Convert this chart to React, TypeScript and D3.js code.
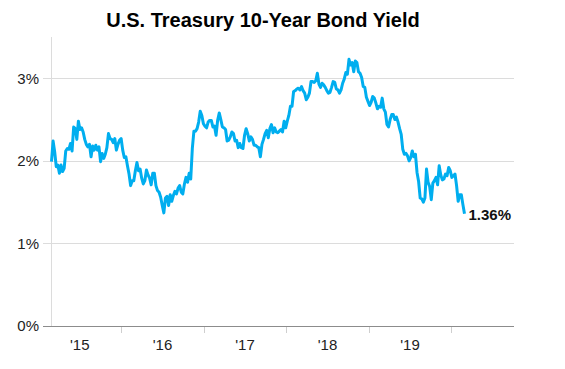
import { useEffect, useRef } from "react";
import * as d3 from "d3";

// weekly closes (Fridays), starting Feb 27 2015
const START = new Date(2015, 1, 27);
const Y2015 = [
  1.99, 2.24, 2.11, 1.93, 1.95, 1.85, 1.95, 1.87, 1.91, 2.12, 2.15, 2.14, 2.21, 2.12, 2.41, 2.39, 2.26, 2.48,
  2.38, 2.4, 2.35, 2.26, 2.2, 2.17, 2.2, 2.05, 2.18, 2.13, 2.19, 2.13, 2.17, 1.99, 2.09, 2.03, 2.08, 2.16,
  2.33, 2.27, 2.26, 2.22, 2.27, 2.13, 2.2, 2.25,
];
const Y2016 = [
  2.27, 2.13, 2.04, 2.05, 1.94, 1.84, 1.7, 1.76, 1.76, 1.88, 1.98, 1.88, 1.9, 1.79, 1.72, 1.76, 1.89, 1.83,
  1.79, 1.71, 1.85, 1.85, 1.7, 1.64, 1.62, 1.56, 1.46, 1.37, 1.55, 1.57, 1.46, 1.59, 1.51, 1.58, 1.63, 1.6,
  1.67, 1.7, 1.62, 1.6, 1.72, 1.8, 1.74, 1.85, 1.78, 2.15, 2.36, 2.36, 2.39, 2.47, 2.6, 2.55, 2.45,
];
const Y2017 = [
  2.42, 2.4, 2.47, 2.49, 2.49, 2.41, 2.42, 2.31, 2.49, 2.58, 2.5, 2.41, 2.4, 2.38, 2.24, 2.25, 2.29, 2.35,
  2.33, 2.24, 2.25, 2.16, 2.21, 2.16, 2.15, 2.31, 2.39, 2.33, 2.24, 2.29, 2.26, 2.19, 2.19, 2.17, 2.16, 2.05,
  2.2, 2.26, 2.33, 2.37, 2.28, 2.39, 2.44, 2.34, 2.4, 2.35, 2.34, 2.36, 2.38, 2.35, 2.48, 2.4,
];
const Y2018 = [
  2.48, 2.55, 2.66, 2.66, 2.84, 2.85, 2.87, 2.88, 2.86, 2.9, 2.85, 2.82, 2.74, 2.77, 2.82, 2.96, 2.96, 2.95,
  2.97, 3.06, 2.93, 2.89, 2.94, 2.92, 2.89, 2.85, 2.82, 2.83, 2.89, 2.96, 2.95, 2.87, 2.86, 2.82, 2.86, 2.94,
  2.99, 3.07, 3.05, 3.23, 3.16, 3.19, 3.08, 3.21, 3.19, 3.08, 3.06, 3.01, 2.9, 2.89, 2.77, 2.72,
];
const Y2019 = [
  2.67, 2.71, 2.78, 2.76, 2.7, 2.63, 2.66, 2.65, 2.76, 2.63, 2.59, 2.44, 2.41, 2.5, 2.56, 2.56, 2.5, 2.53,
  2.47, 2.39, 2.32, 2.14, 2.08, 2.09, 2.06, 2.0, 2.04, 2.12, 2.05, 2.08, 1.86, 1.75, 1.55, 1.54, 1.5, 1.55,
  1.9, 1.74, 1.69, 1.53, 1.73, 1.76, 1.8, 1.71, 1.94, 1.83, 1.77, 1.78, 1.84, 1.82, 1.92, 1.88,
];
const Y2020 = [1.8, 1.82, 1.84, 1.7, 1.51, 1.59, 1.59, 1.47, 1.36];

const YEAR_LABELS = ["'15", "'16", "'17", "'18", "'19"];
const Y_TICKS = [0, 1, 2, 3];

export default function App() {
  const ref = useRef<SVGSVGElement>(null);

  useEffect(() => {
    if (!ref.current) return;
    const w = 565;
    const h = 369;
    const m = { top: 37, right: 51, bottom: 43, left: 51.5 };
    const values = [...Y2015, ...Y2016, ...Y2017, ...Y2018, ...Y2019, ...Y2020];
    const data = values.map((v, i) => ({ date: d3.timeDay.offset(START, i * 7), v }));

    const svg = d3.select(ref.current);
    svg.selectAll("*").remove();
    svg.attr("width", w).attr("height", h).attr("viewBox", `0 0 ${w} ${h}`);

    const x = d3
      .scaleTime()
      .domain([START, new Date(2020, 9, 4)])
      .range([m.left, w - m.right]);
    const y = d3.scaleLinear().domain([0, 3.5]).range([h - m.bottom, m.top]);
    const font = "'Liberation Sans', Arial, sans-serif";

    svg
      .append("text")
      .attr("x", 263)
      .attr("y", 27)
      .attr("text-anchor", "middle")
      .attr("font-family", font)
      .attr("font-weight", "bold")
      .attr("font-size", 20)
      .attr("fill", "#000")
      .text("U.S. Treasury 10-Year Bond Yield");

    // horizontal grid
    svg
      .append("g")
      .selectAll("line")
      .data(Y_TICKS.filter((t) => t > 0))
      .join("line")
      .attr("x1", m.left - 8.5)
      .attr("x2", w - m.right)
      .attr("y1", (d) => Math.round(y(d)) + 0.5)
      .attr("y2", (d) => Math.round(y(d)) + 0.5)
      .attr("stroke", "#dcdcdc");

    // left edge
    svg
      .append("line")
      .attr("x1", m.left)
      .attr("x2", m.left)
      .attr("y1", m.top)
      .attr("y2", h - m.bottom)
      .attr("stroke", "#dcdcdc");

    // year ticks
    const yearStarts = d3.timeYear.range(new Date(2016, 0, 1), new Date(2020, 0, 2));
    svg
      .append("g")
      .selectAll("line")
      .data(yearStarts)
      .join("line")
      .attr("x1", (d) => Math.round(x(d)) + 0.5)
      .attr("x2", (d) => Math.round(x(d)) + 0.5)
      .attr("y1", h - m.bottom)
      .attr("y2", h - m.bottom + 7)
      .attr("stroke", "#cfcfcf");

    // baseline
    svg
      .append("line")
      .attr("x1", m.left - 8.5)
      .attr("x2", w - m.right)
      .attr("y1", Math.round(y(0)) + 0.5)
      .attr("y2", Math.round(y(0)) + 0.5)
      .attr("stroke", "#8c8c8c");

    svg
      .append("g")
      .selectAll("text")
      .data(Y_TICKS)
      .join("text")
      .attr("x", 39)
      .attr("y", (d) => y(d))
      .attr("dy", "0.35em")
      .attr("text-anchor", "end")
      .attr("font-family", font)
      .attr("font-size", 15)
      .attr("fill", "#222")
      .text((d) => `${d}%`);

    svg
      .append("g")
      .selectAll("text")
      .data(YEAR_LABELS)
      .join("text")
      .attr("x", (_, i) => x(new Date(2015 + i, 6, 2)))
      .attr("y", 349.5)
      .attr("text-anchor", "middle")
      .attr("font-family", font)
      .attr("font-size", 15)
      .attr("fill", "#222")
      .text((d) => d);

    const line = d3
      .line<{ date: Date; v: number }>()
      .x((d) => x(d.date))
      .y((d) => y(d.v));

    svg
      .append("path")
      .datum(data)
      .attr("d", line)
      .attr("fill", "none")
      .attr("stroke", "#00aeef")
      .attr("stroke-width", 3)
      .attr("stroke-linejoin", "round");

    const last = data[data.length - 1];
    svg
      .append("text")
      .attr("x", x(last.date) + 4)
      .attr("y", y(last.v) + 6)
      .attr("font-family", font)
      .attr("font-weight", "bold")
      .attr("font-size", 15)
      .attr("fill", "#111")
      .text(`${last.v.toFixed(2)}%`);
  }, []);

  return <svg ref={ref} style={{ position: "absolute", left: 0, top: 0 }} />;
}
